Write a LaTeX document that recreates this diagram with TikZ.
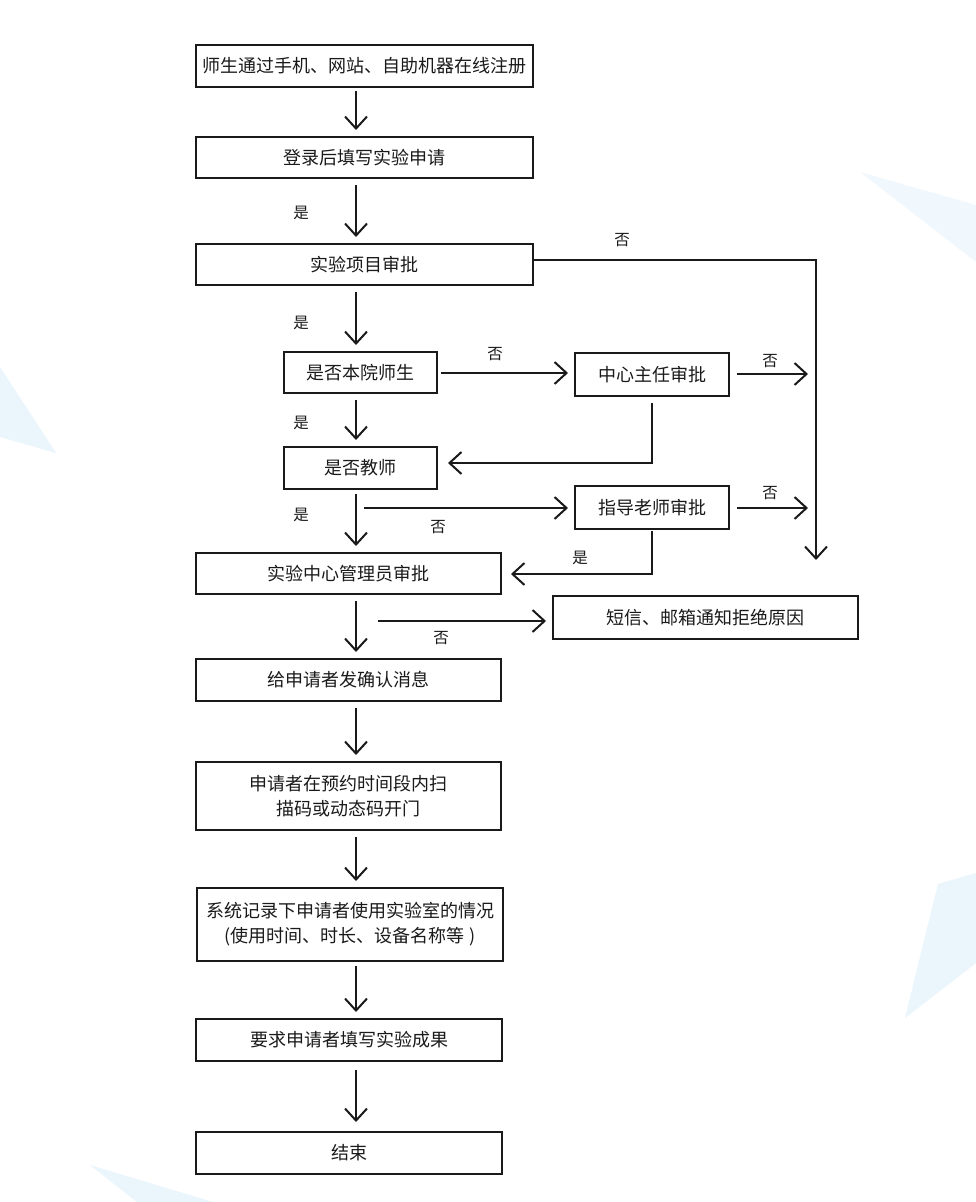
\documentclass[tikz,border=0pt]{standalone}
\usepackage{fontspec}
\setmainfont{Noto Sans CJK SC}
\usetikzlibrary{arrows.meta,calc}
\definecolor{bgblue}{HTML}{EAF5FC}
\definecolor{bgblueb}{HTML}{F1F8FD}
\definecolor{ink}{HTML}{1A1A1A}
\tikzset{
  box/.style={draw=ink, line width=2pt, inner sep=0pt, align=center,
    text=ink, font=\fontsize{18}{25}\selectfont},
  arr/.style={draw=ink, line width=2pt, shorten <=6pt, shorten >=6pt,
    -{Straight Barb[length=12pt,width=22pt]}},
  lbl/.style={text=ink, inner sep=0pt, font=\fontsize{15.5}{18}\selectfont}
}
\begin{document}
\begin{tikzpicture}[x=1pt,y=-1pt]
\fill[white] (0,0) rectangle (976,1202);
\useasboundingbox (0,0) rectangle (976,1202);
% background decorations
\fill[bgblue] (0,367) -- (56,453) -- (0,437) -- cycle;
\fill[bgblueb] (860,172) -- (976,205) -- (976,262) -- cycle;
\fill[bgblue] (938,884) -- (976,873) -- (976,963) -- (905,1018) -- cycle;
\fill[bgblue] (90,1165) -- (213,1202) -- (137,1202) -- cycle;

% boxes
\node[box, minimum width=337pt, minimum height=42pt] (b1) at (364.5,66) {师生通过手机、网站、自助机器在线注册};
\node[box, minimum width=337pt, minimum height=41pt] (b2) at (364.5,157.5) {登录后填写实验申请};
\node[box, minimum width=337pt, minimum height=41pt] (b3) at (364.5,264.5) {实验项目审批};
\node[box, minimum width=153pt, minimum height=41pt] (b4) at (360.5,372.5) {是否本院师生};
\node[box, minimum width=154pt, minimum height=43pt] (b5) at (652,374.5) {中心主任审批};
\node[box, minimum width=153pt, minimum height=42pt] (b6) at (360.5,468) {是否教师};
\node[box, minimum width=154pt, minimum height=43pt] (b7) at (652,507.5) {指导老师审批};
\node[box, minimum width=305pt, minimum height=41pt] (b8) at (348.5,573.5) {实验中心管理员审批};
\node[box, minimum width=305pt, minimum height=43pt] (b9) at (705.5,617.5) {短信、邮箱通知拒绝原因};
\node[box, minimum width=305pt, minimum height=42pt] (b10) at (348.5,680) {给申请者发确认消息};
\node[box, minimum width=305pt, minimum height=68pt] (b11) at (348.5,796) {申请者在预约时间段内扫\\描码或动态码开门};
\node[box, minimum width=306pt, minimum height=73pt] (b12) at (350,924.5) {系统记录下申请者使用实验室的情况\\(使用时间、时长、设备名称等 )};
\node[box, minimum width=306pt, minimum height=42pt] (b13) at (349,1040) {要求申请者填写实验成果};
\node[box, minimum width=306pt, minimum height=42pt] (b14) at (349,1153) {结束};

% main vertical arrows
\coordinate (mx) at (356,0);
\draw[arr, shorten <=3pt] (b1.south -| mx) -- (b2.north -| mx);
\draw[arr] (b2.south -| mx) -- (b3.north -| mx);
\draw[arr] (b3.south -| mx) -- (b4.north -| mx);
\draw[arr] (b4.south -| mx) -- (b6.north -| mx);
\draw[arr, shorten <=4pt] (b6.south -| mx) -- (b8.north -| mx);
\draw[arr] (b8.south -| mx) -- (b10.north -| mx);
\draw[arr] (b10.south -| mx) -- (b11.north -| mx);
\draw[arr] (b11.south -| mx) -- (b12.north -| mx);
\draw[arr, shorten <=4pt] (b12.south -| mx) -- (b13.north -| mx);
\draw[arr, shorten <=8pt, shorten >=9pt] (b13.south -| mx) -- (b14.north -| mx);

% right-hand rejection line
\coordinate (rx) at (816,560);
\draw[arr, shorten <=0pt, shorten >=0pt] ($(b3.east)+(0,-4.5)$) -- ($(b3.east -| rx)+(0,-4.5)$) -- (rx);
\draw[arr, shorten <=7pt, shorten >=8pt] ($(b5.east)+(0,-0.5)$) -- ($(b5.east -| rx)+(0,-0.5)$);
\draw[arr, shorten <=7pt, shorten >=8pt] ($(b7.east)+(0,0.5)$) -- ($(b7.east -| rx)+(0,0.5)$);

% side branches
\draw[arr, shorten <=3pt, shorten >=6pt] ($(b4.east)+(0,0.5)$) -- ($(b4.east -| b5.west)+(0,0.5)$);
\draw[arr, shorten >=10pt] (b5.south) |- ($(b6.east)+(0,-5)$);
\coordinate (s1) at (364,508);
\draw[arr, shorten <=0pt] (s1) -- (s1 -| b7.west);
\draw[arr, shorten <=1pt, shorten >=9pt] (b7.south) |- ($(b8.east)+(0,0.5)$);
\coordinate (s2) at (378,621);
\draw[arr, shorten <=0pt] (s2) -- (s2 -| b9.west);

% labels
\node[lbl] (y1) at (301,213) {是};
\node[lbl] (y2) at (301,323) {是};
\node[lbl] (y3) at (301,423) {是};
\node[lbl] (y4) at (301,515) {是};
\node[lbl] (y5) at (580,558) {是};
\node[lbl] (n1) at (622,240) {否};
\node[lbl] (n2) at (495,354) {否};
\node[lbl] (n3) at (770,361) {否};
\node[lbl] (n4) at (438,527) {否};
\node[lbl] (n5) at (770,493) {否};
\node[lbl] (n6) at (441,638) {否};
\end{tikzpicture}
\end{document}
